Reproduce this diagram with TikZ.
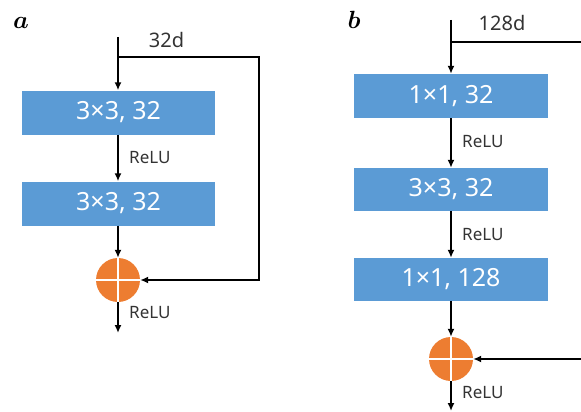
\documentclass[tikz,border=0pt]{standalone}
\usepackage{fontspec}
\setmainfont{Noto Sans}
\usetikzlibrary{arrows.meta}
\definecolor{layerblue}{HTML}{5B9BD5}
\definecolor{sumorange}{HTML}{ED7D31}
\definecolor{inkgray}{HTML}{333333}
\tikzset{
  layer/.style={fill=layerblue, draw=none, minimum width=193pt, minimum height=44pt,
    inner sep=0pt, text=white, font=\fontsize{25}{28}\selectfont},
  sumnode/.style={circle, fill=sumorange, draw=none, minimum size=44pt, inner sep=0pt},
  flow/.style={line width=1.7pt, -{Latex[length=8pt,width=7pt]}},
  wire/.style={line width=1.7pt},
  actlabel/.style={anchor=west, text=inkgray, font=\fontsize{17}{19}\selectfont, inner sep=0pt},
  dimlabel/.style={text=inkgray, font=\fontsize{20}{22}\selectfont, inner sep=0pt},
  panel/.style={font=\fontsize{30}{32}\selectfont\boldmath, inner sep=0pt}
}
\begin{document}
\begin{tikzpicture}[x=1pt, y=-1pt]
\useasboundingbox (0,0) rectangle (581,412);

% ---------------- (a) basic residual block ----------------
\node[panel] (alabel) at (21,23) {$a$};
\coordinate (ain)    at (118,37);
\coordinate (asplit) at (118,57);
\coordinate (ac1)    at (259,57);
\coordinate (ac2)    at (259,280);
\node[dimlabel] (adim) at (166.5,40) {32d};

\node[layer] (a1) at (118.5,112.5) {3×3, 32};
\node[layer] (a2) at (118.5,203.5) {3×3, 32};
\node[sumnode] (asum) at (118,280) {};
\coordinate (aout) at (118,333);

\draw[flow] (ain) -- (ain |- a1.north);
\draw[flow] (ain |- a1.south) -- (ain |- a2.north);
\draw[flow] (ain |- a2.south) -- (asum);
\draw[flow] (asplit) -- (ac1) -- (ac2) -- (asum);
\draw[flow] (asum) -- (aout);
\draw[white, line width=1.6pt] (asum.north) -- (asum.south) (asum.west) -- (asum.east);

\node[actlabel] (arelu1) at (129,157.5) {ReLU};
\node[actlabel] (arelu2) at (129,313) {ReLU};

% ---------------- (b) bottleneck residual block ----------------
\node[panel] (blabel) at (354,20) {$b$};
\coordinate (bin)    at (451,20);
\coordinate (bsplit) at (451,42);
\coordinate (bc1)    at (581,42);
\coordinate (bc2)    at (581,359);
\node[dimlabel] (bdim) at (502,23) {128d};

\node[layer, minimum width=194pt] (b1) at (451,96) {1×1, 32};
\node[layer, minimum width=194pt, minimum height=43pt] (b2) at (451,189.5) {3×3, 32};
\node[layer, minimum width=194pt, minimum height=43pt] (b3) at (451,279.5) {1×1, 128};
\node[sumnode] (bsum) at (451,359) {};
\coordinate (bout) at (451,411);

\draw[flow] (bin) -- (b1);
\draw[flow] (b1) -- (b2);
\draw[flow] (b2) -- (b3);
\draw[flow] (b3) -- (bsum);
\draw[wire] (bsplit) -- (bc1);
\draw[flow] (bc2) -- (bsum);
\draw[flow] (bsum) -- (bout);
\draw[white, line width=1.6pt] (bsum.north) -- (bsum.south) (bsum.west) -- (bsum.east);

\node[actlabel] (brelu1) at (462,142) {ReLU};
\node[actlabel] (brelu2) at (462,235) {ReLU};
\node[actlabel] (brelu3) at (462,393) {ReLU};
\end{tikzpicture}
\end{document}
